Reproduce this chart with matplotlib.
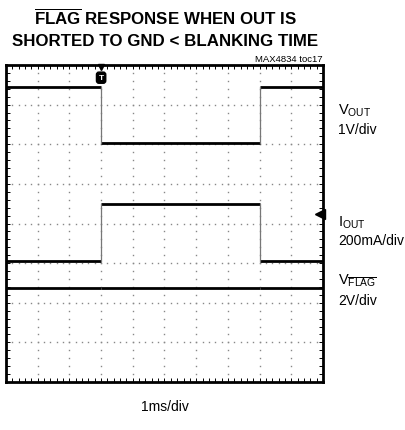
import matplotlib
matplotlib.use("Agg")
import matplotlib.pyplot as plt
import numpy as np
from matplotlib.ticker import MultipleLocator

# scope screen: 10 horizontal divisions (1ms/div), 8 vertical divisions
n_xdiv = 10
n_ydiv = 8

# edges of the short-circuit event (ms from left edge of screen)
t_edges = [0.0, 3.0, 8.0, 10.0]

# trace levels in screen divisions (from bottom), one per segment
vout_levels = [7.44, 6.03, 7.44]
iout_levels = [3.05, 4.49, 3.05]
vflag_levels = [2.37, 2.37, 2.37]

trigger_time = 3.0
trigger_level = 4.24

label_font = ["Liberation Sans", "DejaVu Sans"]

fig = plt.figure(figsize=(4.06, 4.31), dpi=100, facecolor="white")
ax = fig.add_axes([6 / 406, 1 - 383 / 431, 317 / 406, 317 / 431])
ax.set_xlim(0, n_xdiv)
ax.set_ylim(0, n_ydiv)

# dotted graticule
for k in range(1, n_xdiv):
    yy = np.arange(0, n_ydiv + 0.01, 0.2)
    ax.plot(np.full_like(yy, k), yy, ls="none", marker="s", ms=1.0, mec="none", mfc="#888888")
for j in range(1, n_ydiv):
    xx = np.arange(0, n_xdiv + 0.01, 0.2)
    ax.plot(xx, np.full_like(xx, j), ls="none", marker="s", ms=1.0, mec="none", mfc="#888888")


def draw_trace(levels):
    for i, lvl in enumerate(levels):
        ax.plot([t_edges[i], t_edges[i + 1]], [lvl, lvl], color="black", lw=2.0, solid_capstyle="butt")
    for i in range(1, len(levels)):
        if levels[i] != levels[i - 1]:
            ax.plot([t_edges[i], t_edges[i]], [levels[i - 1], levels[i]], color="#777777", lw=0.9)


draw_trace(vout_levels)
draw_trace(iout_levels)
draw_trace(vflag_levels)

# trigger markers
ax.plot([trigger_time], [n_ydiv - 0.05], marker="v", ms=4.5, color="black", clip_on=False)
ax.text(trigger_time, n_ydiv - 0.32, "T", color="white", fontsize=6, fontweight="bold",
        ha="center", va="center", family=label_font,
        bbox=dict(boxstyle="round,pad=0.25,rounding_size=0.3", fc="black", ec="black"))
ax.plot([n_xdiv - 0.09], [trigger_level], marker="<", ms=6.5, color="black", clip_on=False)

# border with inward ticks
for sp in ax.spines.values():
    sp.set_linewidth(2.0)
ax.xaxis.set_major_locator(MultipleLocator(1))
ax.yaxis.set_major_locator(MultipleLocator(1))
ax.xaxis.set_minor_locator(MultipleLocator(0.2))
ax.yaxis.set_minor_locator(MultipleLocator(0.2))
ax.tick_params(which="both", direction="in", top=True, right=True, length=3, width=0.7,
               labelbottom=False, labelleft=False)

# titles and labels
fig.text(165 / 406, 1 - 25 / 431, r"$\mathregular{\overline{FLAG}}$ RESPONSE WHEN OUT IS",
         ha="center", va="baseline", fontsize=12.2, fontweight="bold", family=label_font)
fig.text(165 / 406, 1 - 46.5 / 431, "SHORTED TO GND < BLANKING TIME",
         ha="center", va="baseline", fontsize=12.2, fontweight="bold", family=label_font)
fig.text(323 / 406, 1 - 62 / 431, "MAX4834 toc17", ha="right", va="baseline",
         fontsize=6.8, family=label_font)

lx = 338 / 406
fig.text(lx, 1 - 115 / 431, r"$\mathregular{V_{OUT}}$", va="baseline", fontsize=10.5, family=label_font)
fig.text(lx, 1 - 134 / 431, "1V/div", va="baseline", fontsize=10, family=label_font)
fig.text(lx, 1 - 227 / 431, r"$\mathregular{I_{OUT}}$", va="baseline", fontsize=10.5, family=label_font)
fig.text(lx, 1 - 245 / 431, "200mA/div", va="baseline", fontsize=10, family=label_font)
fig.text(lx, 1 - 284 / 431, r"$\mathregular{V_{\overline{FLAG}}}$", va="baseline", fontsize=10.5, family=label_font)
fig.text(lx, 1 - 305 / 431, "2V/div", va="baseline", fontsize=10, family=label_font)
fig.text(165 / 406, 1 - 411 / 431, "1ms/div", ha="center", va="baseline", fontsize=10, family=label_font)

fig.savefig("out.png", dpi=100, facecolor="white")
